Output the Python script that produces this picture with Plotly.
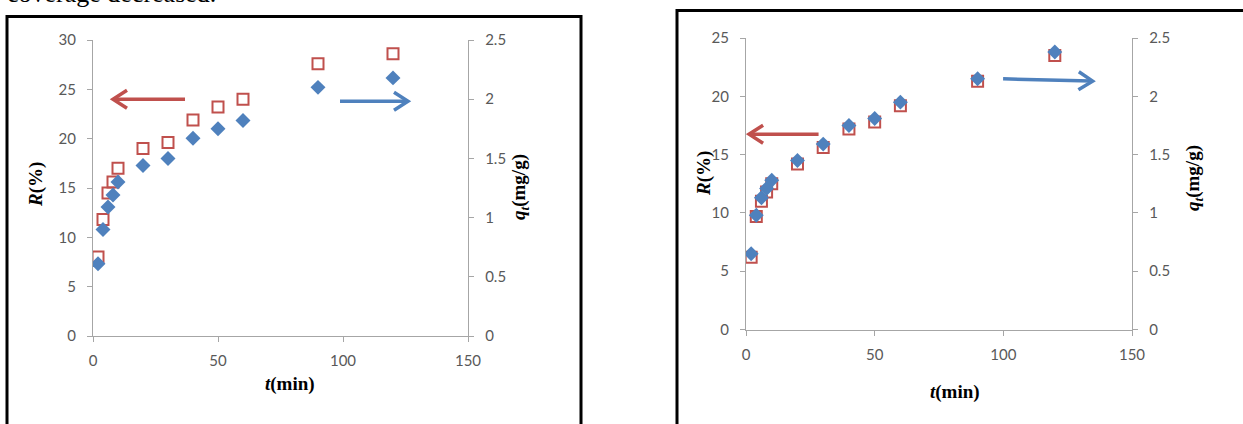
import plotly.graph_objects as go

# Contact time (min) shared by both experiments
t_min = [2, 4, 6, 8, 10, 20, 30, 40, 50, 60, 90, 120]

# Panel (a): removal efficiency R (%) and uptake q_t (mg/g)
R_a = [8.0, 11.8, 14.5, 15.6, 17.0, 19.0, 19.6, 21.9, 23.2, 24.0, 27.6, 28.6]
q_a = [0.61, 0.90, 1.09, 1.19, 1.30, 1.44, 1.50, 1.67, 1.75, 1.82, 2.10, 2.18]

# Panel (b)
R_b = [6.2, 9.7, 11.0, 11.8, 12.5, 14.2, 15.6, 17.2, 17.8, 19.2, 21.3, 23.5]
q_b = [0.65, 0.98, 1.13, 1.21, 1.28, 1.45, 1.59, 1.75, 1.81, 1.95, 2.15, 2.38]

x_ticks = [0, 50, 100, 150]

W, H = 1243, 424
RED = "#C0504D"
BLUE = "#4F81BD"
AXIS = "#A6A6A6"
TICKFONT = dict(family="Lato", size=15, color="#595959")
TITLEFONT = dict(family="Liberation Serif", size=19, color="black")


def fx(p):
    return p / W


def fy(p):
    return 1 - p / H


# plot areas in pixels: (left, right, top, bottom)
area_a = (93, 468, 40, 336)
area_b = (746, 1132, 38, 329.5)

fig = go.Figure()

for xa, ya_R, ya_q, R, q in (("x", "y", "y2", R_a, q_a), ("x2", "y3", "y4", R_b, q_b)):
    fig.add_trace(go.Scatter(
        x=t_min, y=R, mode="markers", xaxis=xa, yaxis=ya_R,
        marker=dict(symbol="square-open", size=11, color=RED, line=dict(width=2, color=RED)),
        showlegend=False, hoverinfo="skip"))
    fig.add_trace(go.Scatter(
        x=t_min, y=q, mode="markers", xaxis=xa, yaxis=ya_q,
        marker=dict(symbol="diamond", size=11.5, color=BLUE, line=dict(width=0)),
        showlegend=False, hoverinfo="skip"))


def xaxis_cfg(area, anchor):
    return dict(domain=[fx(area[0]), fx(area[1])], anchor=anchor, range=[0, 150],
                tickvals=x_ticks, showline=True, linecolor=AXIS, linewidth=1.3,
                ticks="outside", ticklen=5, tickcolor=AXIS, showgrid=False,
                zeroline=False, tickfont=TICKFONT, ticklabelstandoff=6,
                automargin=False)


def yaxis_cfg(area, anchor, rng, dtick, side="left", overlay=None):
    cfg = dict(domain=[fy(area[3]), fy(area[2])], anchor=anchor, range=rng, dtick=dtick,
               showline=True, linecolor=AXIS, linewidth=1.3, ticks="outside", ticklen=5,
               tickcolor=AXIS, showgrid=False, zeroline=False, tickfont=TICKFONT,
               side=side, ticklabelstandoff=8, automargin=False)
    if overlay:
        cfg["overlaying"] = overlay
    return cfg


fig.update_layout(
    width=W, height=H, margin=dict(l=0, r=0, t=0, b=0, pad=0),
    paper_bgcolor="white", plot_bgcolor="rgba(0,0,0,0)",
    xaxis=xaxis_cfg(area_a, "y"),
    yaxis=yaxis_cfg(area_a, "x", [0, 30], 5),
    yaxis2=yaxis_cfg(area_a, "x", [0, 2.5], 0.5, side="right", overlay="y"),
    xaxis2=xaxis_cfg(area_b, "y3"),
    yaxis3=yaxis_cfg(area_b, "x2", [0, 25], 5),
    yaxis4=yaxis_cfg(area_b, "x2", [0, 2.5], 0.5, side="right", overlay="y3"),
)

# Axis titles
titles = [
    ("<b><i>R</i>(%)</b>", 36, 185, -90),
    ("<b><i>q<sub>t</sub></i>(mg/g)</b>", 520, 187, -90),
    ("<b><i>t</i>(min)</b>", 290, 384, 0),
    ("<b><i>R</i>(%)</b>", 704, 174, -90),
    ("<b><i>q<sub>t</sub></i>(mg/g)</b>", 1194, 178, -90),
    ("<b><i>t</i>(min)</b>", 955, 392, 0),
]
for text, px, py, ang in titles:
    fig.add_annotation(text=text, xref="paper", yref="paper", x=fx(px), y=fy(py),
                       xanchor="center", yanchor="middle", textangle=ang,
                       showarrow=False, font=TITLEFONT)

# Trailing line of the surrounding paragraph
fig.add_annotation(text="coverage decreased.", xref="paper", yref="paper",
                   x=fx(5), y=fy(10.5), xanchor="left", yanchor="bottom", showarrow=False,
                   font=dict(family="Liberation Serif", size=26, color="black"))


# Direction arrows pointing at the axis each series belongs to
def arrow(xref, yref, tail, tip, sx, sy, color, width):
    """Arrow from tail to tip (data units); sx, sy are pixels per data unit."""
    dxp = (tip[0] - tail[0]) * sx
    dyp = (tip[1] - tail[1]) * sy
    n = (dxp ** 2 + dyp ** 2) ** 0.5
    ux, uy = dxp / n, dyp / n
    back, half = 14, 9
    a1 = (tip[0] + (-ux * back - uy * half) / sx, tip[1] + (-uy * back + ux * half) / sy)
    a2 = (tip[0] + (-ux * back + uy * half) / sx, tip[1] + (-uy * back - ux * half) / sy)
    fig.add_shape(type="line", xref=xref, yref=yref, x0=tail[0], y0=tail[1],
                  x1=tip[0] - ux * 1.5 / sx, y1=tip[1] - uy * 1.5 / sy,
                  line=dict(color=color, width=width))
    fig.add_shape(type="path", xref=xref, yref=yref,
                  path=f"M {a1[0]} {a1[1]} L {tip[0]} {tip[1]} L {a2[0]} {a2[1]}",
                  line=dict(color=color, width=width))


sxa, sya = (area_a[1] - area_a[0]) / 150, (area_a[3] - area_a[2]) / 30
sxb, syb = (area_b[1] - area_b[0]) / 150, (area_b[3] - area_b[2]) / 25
arrow("x", "y", (36.8, 24.0), (8.0, 24.0), sxa, sya, RED, 3.5)
arrow("x", "y", (98.8, 23.8), (126.0, 23.8), sxa, sya, BLUE, 3.5)
arrow("x2", "y3", (28.2, 16.75), (1.2, 16.75), sxb, syb, RED, 3.5)
arrow("x2", "y3", (99.9, 21.5), (134.7, 21.3), sxb, syb, BLUE, 3.5)

# Panel frames
fig.add_shape(type="rect", xref="paper", yref="paper", x0=fx(7), x1=fx(581),
              y0=fy(440), y1=fy(16.5), line=dict(color="black", width=3))
fig.add_shape(type="rect", xref="paper", yref="paper", x0=fx(677), x1=fx(1260),
              y0=fy(440), y1=fy(10.5), line=dict(color="black", width=3))

fig.write_html("out.html")
